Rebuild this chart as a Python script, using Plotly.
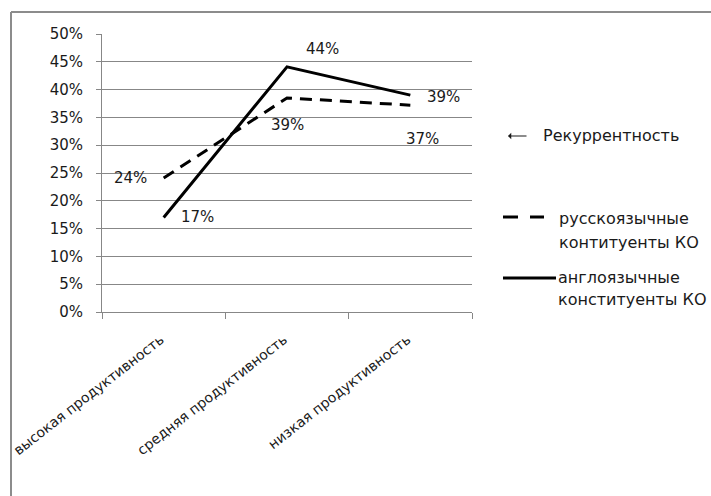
import plotly.graph_objects as go

categories = ["высокая продуктивность", "средняя продуктивность", "низкая продуктивность"]
ru_values = [0.241, 0.385, 0.372]
en_values = [0.17, 0.441, 0.39]
ru_labels = ["24%", "39%", "37%"]
en_labels = ["17%", "44%", "39%"]
ru_name = "русскоязычные контитуенты КО"
en_name = "англоязычные конституенты КО"
y_ticks = [0, 0.05, 0.10, 0.15, 0.20, 0.25, 0.30, 0.35, 0.40, 0.45, 0.50]
note = "Рекуррентность"

FONT = "DejaVu Sans"
TXT = "#1a1a1a"
GRID = "#878787"

# plot area in pixels
L, R, T, B = 102, 472, 34, 312
W, H = 711, 496
def px(x):
    return (x - L) / (R - L)
def py(y):
    return 1 - (y - T) / (B - T)

fig = go.Figure()
fig.add_trace(go.Scatter(x=categories, y=ru_values, mode="lines", name=ru_name,
                         line=dict(color="black", width=3, dash="12px,8px"),
                         showlegend=False))
fig.add_trace(go.Scatter(x=categories, y=en_values, mode="lines", name=en_name,
                         line=dict(color="black", width=3),
                         showlegend=False))

# data labels
ru_shift = [(-33, 0), (0, -27), (12, -34)]
en_shift = [(34, 0), (35, 18), (33, -2)]
for c, v, t, (dx, dy) in zip(categories, ru_values, ru_labels, ru_shift):
    fig.add_annotation(x=c, y=v, text=t, showarrow=False, xshift=dx, yshift=dy,
                       font=dict(family=FONT, size=15, color=TXT))
for c, v, t, (dx, dy) in zip(categories, en_values, en_labels, en_shift):
    fig.add_annotation(x=c, y=v, text=t, showarrow=False, xshift=dx, yshift=dy,
                       font=dict(family=FONT, size=15, color=TXT))

# manual legend
fig.add_shape(type="line", xref="paper", yref="paper", x0=px(503), x1=px(544), y0=py(217), y1=py(217),
              line=dict(color="black", width=3, dash="15px,12px"))
fig.add_shape(type="line", xref="paper", yref="paper", x0=px(503), x1=px(556), y0=py(278), y1=py(278),
              line=dict(color="black", width=3))
legend_lines = [
    (557, 218, "русскоязычные"),
    (557, 242, "контитуенты КО"),
    (556, 277, "англоязычные"),
    (556, 299, "конституенты КО"),
    (541, 135, note),
]
for x, y, t in legend_lines:
    fig.add_annotation(xref="paper", yref="paper", x=px(x), y=py(y), text=t, showarrow=False,
                       xanchor="left", yanchor="middle",
                       font=dict(family=FONT, size=16, color=TXT))
# arrow before the note
fig.add_annotation(xref="paper", yref="paper", x=px(508), y=py(136), ax=20, ay=0,
                   text="", showarrow=True, arrowhead=1, arrowsize=0.9, arrowwidth=1.2,
                   arrowcolor=TXT, standoff=0, startstandoff=0)

# outer frame (top and left edges)
fig.add_shape(type="line", xref="paper", yref="paper", x0=px(11), x1=px(720), y0=py(12), y1=py(12),
              line=dict(color="#8c8c8c", width=2))
fig.add_shape(type="line", xref="paper", yref="paper", x0=px(11), x1=px(11), y0=py(12), y1=py(500),
              line=dict(color="#8c8c8c", width=2))

fig.update_layout(
    width=W, height=H,
    margin=dict(l=L, r=W - R, t=T, b=H - B),
    paper_bgcolor="white", plot_bgcolor="white",
    font=dict(family=FONT, size=15, color=TXT),
    showlegend=False,
)
fig.update_xaxes(type="category", range=[-0.5, 2.5], showgrid=False, automargin=False,
                 showline=True, linecolor=GRID, linewidth=1,
                 ticks="outside", tickson="boundaries", ticklen=6, tickcolor=GRID,
                 tickangle=-38, ticklabelstandoff=13, ticklabelshift=-3,
                 tickfont=dict(family=FONT, size=14, color=TXT))
fig.update_yaxes(range=[0, 0.5], tickvals=y_ticks, tickformat=".0%", automargin=False,
                 showgrid=True, gridcolor=GRID, gridwidth=1,
                 showline=True, linecolor=GRID, linewidth=1,
                 ticks="outside", ticklen=5, tickcolor=GRID,
                 ticklabelstandoff=10, zeroline=False,
                 tickfont=dict(family=FONT, size=15, color=TXT))

fig.write_html("out.html")
